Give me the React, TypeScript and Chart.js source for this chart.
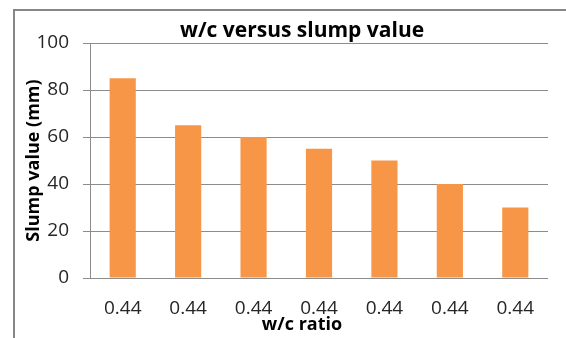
import React, { useEffect, useRef } from "react";
import { Chart, registerables } from "chart.js";

Chart.register(...registerables);

// Data
const categories: string[] = ["0.44", "0.44", "0.44", "0.44", "0.44", "0.44", "0.44"];
const slumpValues: number[] = [85, 65, 60, 55, 50, 40, 30];

// Text
const chartTitle = "w/c versus slump value";
const xTitle = "w/c ratio";
const yTitle = "Slump value (mm)";

const FONT = "'Open Sans', 'Noto Sans', sans-serif";
const GRID = "#8c8c8c";
const BAR = "#F79646";
const TICK_COLOR = "#262626";

// Frame and centred titles drawn on the canvas
const decorPlugin = {
  id: "decor",
  beforeDraw(chart: Chart) {
    const ctx = chart.ctx;
    ctx.save();
    ctx.fillStyle = "#ffffff";
    ctx.fillRect(0, 0, chart.width, chart.height);
    ctx.strokeStyle = "#878787";
    ctx.lineWidth = 2;
    ctx.strokeRect(14, 10, chart.width + 40, chart.height + 40);
    ctx.restore();
  },
  afterDraw(chart: Chart) {
    const ctx = chart.ctx;
    ctx.save();
    ctx.fillStyle = "#000000";
    ctx.textAlign = "center";
    ctx.textBaseline = "middle";
    ctx.font = `bold 21px ${FONT}`;
    ctx.fillText(chartTitle, 302, 31);
    ctx.font = `bold 18px ${FONT}`;
    ctx.fillText(xTitle, 302, 325);
    ctx.restore();
  },
};

export default function App() {
  const canvasRef = useRef<HTMLCanvasElement | null>(null);

  useEffect(() => {
    if (!canvasRef.current) return;
    const chart = new Chart(canvasRef.current, {
      type: "bar",
      data: {
        labels: categories,
        datasets: [
          {
            data: slumpValues,
            backgroundColor: BAR,
            borderWidth: 0,
            categoryPercentage: 1,
            barPercentage: 0.4,
          },
        ],
      },
      options: {
        animation: false,
        responsive: false,
        layout: { padding: { top: 43, right: 18, left: 0, bottom: 0 } },
        plugins: {
          legend: { display: false },
          title: { display: false },
          tooltip: { enabled: false },
        },
        scales: {
          x: {
            grid: { display: false, drawTicks: false },
            border: { display: false },
            ticks: {
              color: TICK_COLOR,
              font: { family: FONT, size: 19 },
              padding: 19,
              maxRotation: 0,
              autoSkip: false,
            },
            afterFit(scale: any) {
              scale.height = 60;
            },
          },
          y: {
            min: 0,
            max: 100,
            ticks: {
              stepSize: 20,
              color: TICK_COLOR,
              font: { family: FONT, size: 19 },
              padding: 14,
            },
            grid: { color: GRID, lineWidth: 1, tickLength: 7, drawTicks: true },
            border: { display: true, color: GRID, width: 1 },
            title: {
              display: true,
              text: yTitle,
              color: "#000000",
              font: { family: FONT, size: 18, weight: "bold" },
              padding: { top: 23, bottom: 0 },
            },
            afterFit(scale: any) {
              scale.width = 90;
            },
          },
        },
      },
      plugins: [decorPlugin],
    });
    return () => chart.destroy();
  }, []);

  return (
    <div style={{ position: "fixed", left: 0, top: 0, width: 566, height: 338, overflow: "hidden", background: "#fff" }}>
      <canvas ref={canvasRef} width={566} height={338} style={{ display: "block" }} />
    </div>
  );
}
